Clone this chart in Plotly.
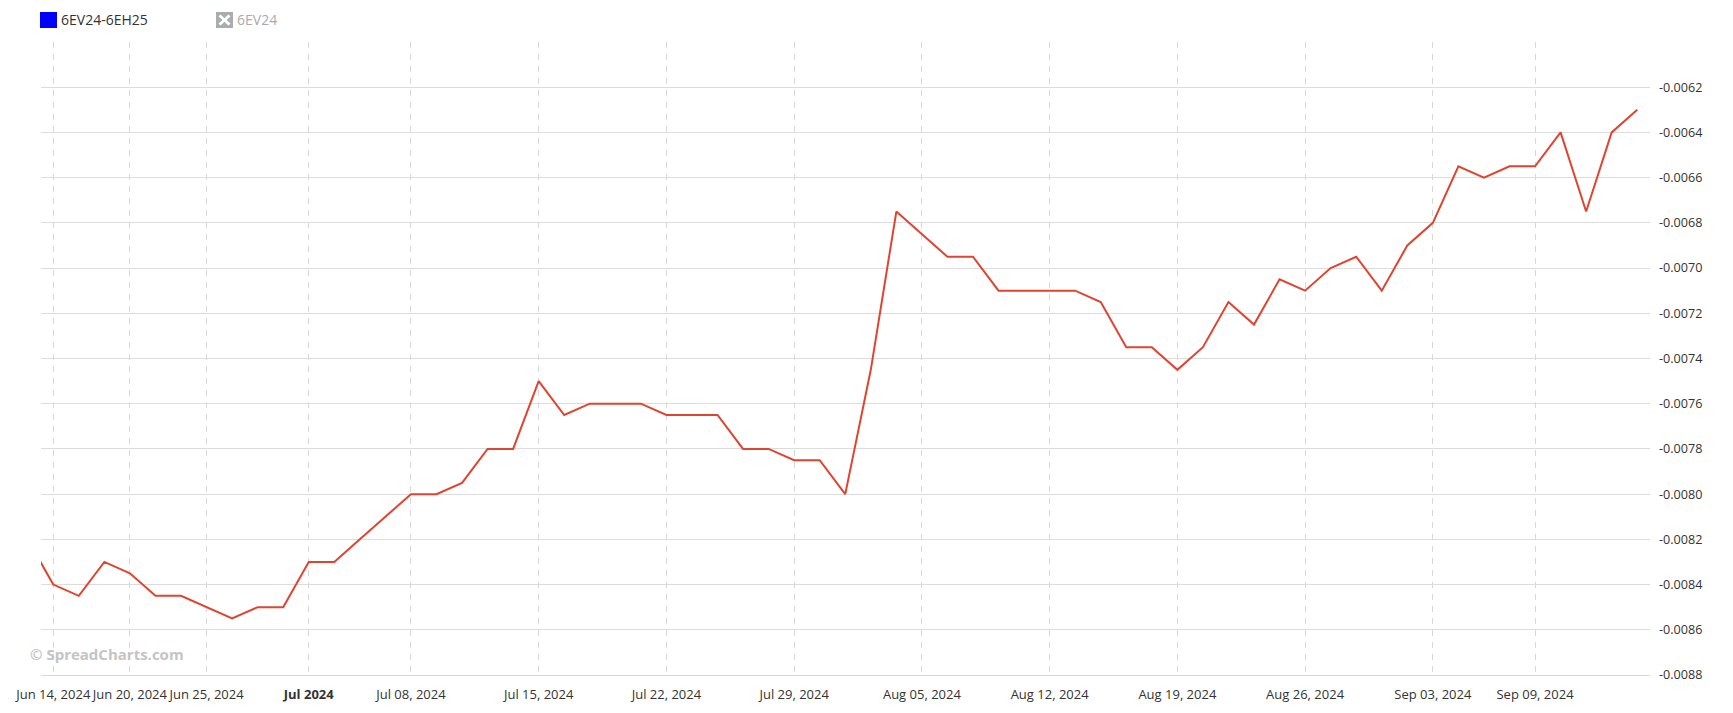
import plotly.graph_objects as go

dates = [
    "2024-06-13", "2024-06-14", "2024-06-17", "2024-06-18", "2024-06-20", "2024-06-21",
    "2024-06-24", "2024-06-25", "2024-06-26", "2024-06-27", "2024-06-28",
    "2024-07-01", "2024-07-02", "2024-07-03", "2024-07-05", "2024-07-08", "2024-07-09",
    "2024-07-10", "2024-07-11", "2024-07-12", "2024-07-15", "2024-07-16", "2024-07-17",
    "2024-07-18", "2024-07-19", "2024-07-22", "2024-07-23", "2024-07-24", "2024-07-25",
    "2024-07-26", "2024-07-29", "2024-07-30", "2024-07-31", "2024-08-01", "2024-08-02",
    "2024-08-05", "2024-08-06", "2024-08-07", "2024-08-08", "2024-08-09", "2024-08-12",
    "2024-08-13", "2024-08-14", "2024-08-15", "2024-08-16", "2024-08-19", "2024-08-20",
    "2024-08-21", "2024-08-22", "2024-08-23", "2024-08-26", "2024-08-27", "2024-08-28",
    "2024-08-29", "2024-08-30", "2024-09-03", "2024-09-04", "2024-09-05", "2024-09-06",
    "2024-09-09", "2024-09-10", "2024-09-11", "2024-09-12", "2024-09-13",
]

spread = [
    -0.0082, -0.0084, -0.00845, -0.0083, -0.00835, -0.00845,
    -0.00845, -0.0085, -0.00855, -0.0085, -0.0085,
    -0.0083, -0.0083, -0.0082, -0.0081, -0.0080, -0.0080,
    -0.00795, -0.0078, -0.0078, -0.0075, -0.00765, -0.0076,
    -0.0076, -0.0076, -0.00765, -0.00765, -0.00765, -0.0078,
    -0.0078, -0.00785, -0.00785, -0.0080, -0.00745, -0.00675,
    -0.00685, -0.00695, -0.00695, -0.0071, -0.0071, -0.0071,
    -0.0071, -0.00715, -0.00735, -0.00735, -0.00745, -0.00735,
    -0.00715, -0.00725, -0.00705, -0.0071, -0.0070, -0.00695,
    -0.0071, -0.0069, -0.0068, -0.00655, -0.0066, -0.00655,
    -0.00655, -0.0064, -0.00675, -0.0064, -0.0063,
]

tick_dates = ["2024-06-14", "2024-06-20", "2024-06-25", "2024-07-01", "2024-07-08",
              "2024-07-15", "2024-07-22", "2024-07-29", "2024-08-05", "2024-08-12",
              "2024-08-19", "2024-08-26", "2024-09-03", "2024-09-09"]
tick_labels = ["Jun 14, 2024", "Jun 20, 2024", "Jun 25, 2024", "<b>Jul 2024</b>", "Jul 08, 2024",
               "Jul 15, 2024", "Jul 22, 2024", "Jul 29, 2024", "Aug 05, 2024", "Aug 12, 2024",
               "Aug 19, 2024", "Aug 26, 2024", "Sep 03, 2024", "Sep 09, 2024"]

y_ticks = [-0.0088, -0.0086, -0.0084, -0.0082, -0.0080, -0.0078, -0.0076, -0.0074,
           -0.0072, -0.0070, -0.0068, -0.0066, -0.0064, -0.0062, -0.0060]
y_labels = ["%.4f" % v for v in y_ticks[:-1]] + [""]

series_name = "6EV24-6EH25"
hidden_name = "6EV24"

# page body has an 8px margin: compensate so the plot area lands at
# screen x 41..1650, y 42..675
OFF = 8
PL, PR, PT, PB = 41, 1650, 42, 675


def px(x):
    return (x - PL) / (PR - PL)


def py(y):
    return (PB - y) / (PB - PT)


fig = go.Figure()
fig.add_trace(go.Scatter(
    x=dates, y=spread, mode="lines", name=series_name,
    line=dict(color="#e0442f", width=2), hoverinfo="skip", showlegend=False,
))

font_family = "Open Sans, Noto Sans, sans-serif"

fig.update_layout(
    width=1733, height=713,
    margin=dict(l=PL - OFF, r=1733 - PR + OFF, t=PT - OFF, b=713 - PB + OFF, autoexpand=False),
    paper_bgcolor="white", plot_bgcolor="white",
    font=dict(family=font_family, size=12, color="#333333"),
    showlegend=False,
    xaxis=dict(
        type="category",
        range=[0.52, len(dates) - 1 + 0.5],
        tickmode="array", tickvals=tick_dates, ticktext=tick_labels,
        tickangle=0,
        showgrid=True, gridcolor="#d8d8d8", griddash="6px,6px", gridwidth=1,
        showline=True, linecolor="#d8d8d8", linewidth=1,
        ticks="", zeroline=False,
        tickfont=dict(family=font_family, size=13, color="#333333"),
        ticklabelstandoff=7,
        fixedrange=True,
    ),
    yaxis=dict(
        side="right",
        range=[-0.0088, -0.0060],
        tickmode="array", tickvals=y_ticks, ticktext=y_labels,
        showgrid=True, gridcolor="#dcdcdc", gridwidth=1,
        zeroline=False, showline=False, ticks="",
        tickfont=dict(family=font_family, size=12.6, color="#333333"),
        ticklabelstandoff=8,
        fixedrange=True,
    ),
)

# Legend (drawn manually, Highcharts-style)
fig.add_shape(type="rect", xref="paper", yref="paper",
              x0=px(40), x1=px(57), y0=py(28), y1=py(12),
              fillcolor="#0000ff", line=dict(width=0))
fig.add_annotation(xref="paper", yref="paper", x=px(59), y=py(20),
                   text=series_name, showarrow=False, xanchor="left", yanchor="middle",
                   font=dict(family=font_family, size=14, color="#333333"))
bx0, bx1, by0, by1 = px(216), px(233), py(28), py(12)
dx, dy = 3.5 / (PR - PL), 3.5 / (PB - PT)
fig.add_shape(type="rect", xref="paper", yref="paper", x0=bx0, x1=bx1, y0=by0, y1=by1,
              fillcolor="#a9adad", line=dict(width=0))
fig.add_shape(type="line", xref="paper", yref="paper", x0=bx0 + dx, x1=bx1 - dx,
              y0=by0 + dy, y1=by1 - dy, line=dict(color="white", width=3))
fig.add_shape(type="line", xref="paper", yref="paper", x0=bx0 + dx, x1=bx1 - dx,
              y0=by1 - dy, y1=by0 + dy, line=dict(color="white", width=3))
fig.add_annotation(xref="paper", yref="paper", x=px(235), y=py(20),
                   text=hidden_name, showarrow=False, xanchor="left", yanchor="middle",
                   font=dict(family=font_family, size=14, color="#aaaaaa"))

# Watermark
fig.add_annotation(xref="paper", yref="paper", x=px(28), y=py(654),
                   text="<b>© SpreadCharts.com</b>", showarrow=False, xanchor="left",
                   yanchor="middle",
                   font=dict(family=font_family, size=15, color="#c4c4c4"))

fig.write_html("out.html")
